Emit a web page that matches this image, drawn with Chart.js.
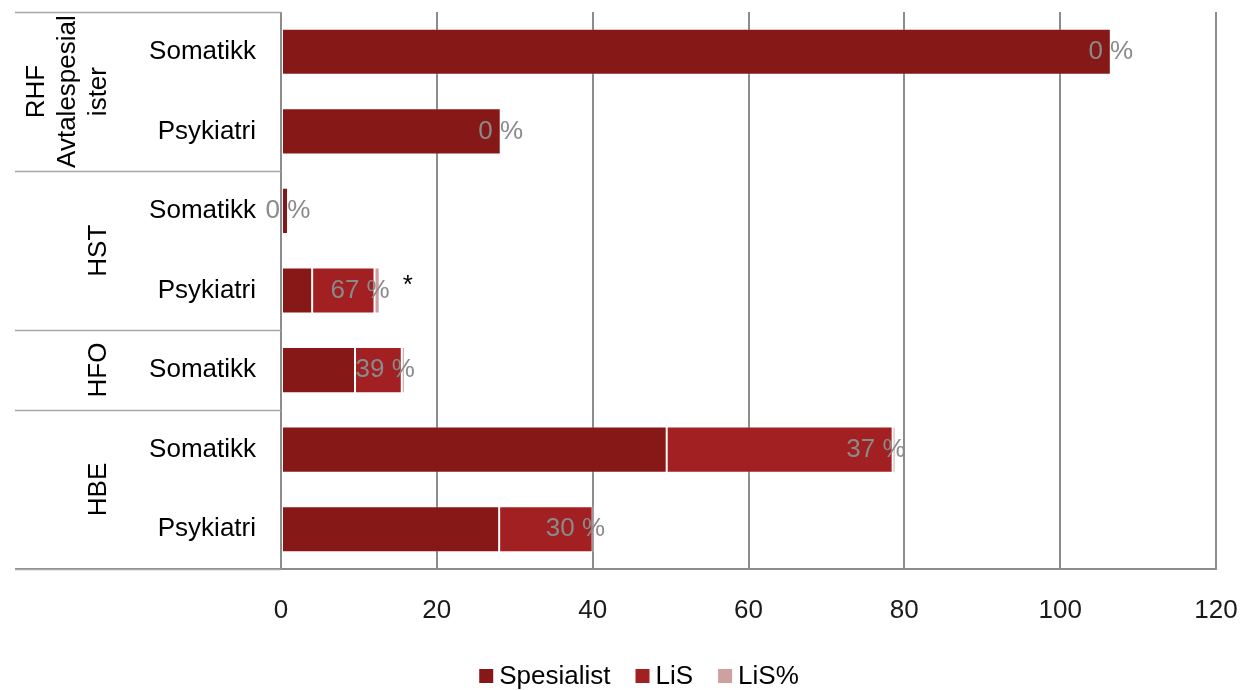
<!DOCTYPE html>
<html><head><meta charset="utf-8">
<script src="https://cdn.jsdelivr.net/npm/chart.js@4/dist/chart.umd.min.js"></script>
<style>html,body{margin:0;padding:0;background:#fff}#wrap{width:1242px;height:690px;position:relative}</style>
</head><body><div id="wrap"><canvas id="c" width="1242" height="690"></canvas></div>
<script>
const groups = ['RHF Avtalespesialister','RHF Avtalespesialister','HST','HST','HFO','HBE','HBE'];
const groupLines = {'RHF Avtalespesialister':['RHF','Avtalespesial','ister'],'HST':['HST'],'HFO':['HFO'],'HBE':['HBE']};
const categories = ['Somatikk','Psykiatri','Somatikk','Psykiatri','Somatikk','Somatikk','Psykiatri'];
const spesialist = [106.5, 28.2, 0.9, 4, 9.5, 49.5, 28];
const lis = [0, 0, 0, 8, 6, 29, 12];
const lisPct = [0, 0, 0, 0.67, 0.39, 0.37, 0.30];
const notes = ['', '', '', '*', '', '', ''];
const xTicks = [0, 20, 40, 60, 80, 100, 120];
const seriesNames = ['Spesialist','LiS','LiS%'];
const colors = ['#861818','#A21F22','#CFA0A0'];

const FONT = '"Liberation Sans", Arial, sans-serif';
const FS = 26;
const labelsPlugin = {
  id: 'custom',
  afterDraw(chart) {
    const ctx = chart.ctx, ca = chart.chartArea, ys = chart.scales.y;
    ctx.save();
    // group separators
    ctx.strokeStyle = '#a6a6a6'; ctx.lineWidth = 1.5;
    const bounds = [];
    let start = 0;
    for (let i = 1; i <= groups.length; i++) {
      if (i === groups.length || groups[i] !== groups[start]) { bounds.push([start, i - 1]); start = i; }
    }
    const band = (ca.bottom - ca.top) / categories.length;
    const edges = [ca.top];
    bounds.forEach(b => edges.push(ys.getPixelForValue(b[1]) + band / 2));
    edges.forEach(y => { ctx.beginPath(); ctx.moveTo(15, Math.round(y) + 0.5); ctx.lineTo(ca.left, Math.round(y) + 0.5); ctx.stroke(); });
    // subcategory labels
    ctx.fillStyle = '#000'; ctx.font = FS + 'px ' + FONT; ctx.textAlign = 'right'; ctx.textBaseline = 'middle';
    categories.forEach((c, i) => ctx.fillText(c, 256, ys.getPixelForValue(i)));
    // group labels rotated
    bounds.forEach(b => {
      const yc = (ys.getPixelForValue(b[0]) + ys.getPixelForValue(b[1])) / 2;
      const lines = groupLines[groups[b[0]]];
      const lh = 31;
      const x0 = 99 - (lines.length - 1) * lh;
      lines.forEach((t, k) => {
        ctx.save(); ctx.translate(x0 + k * lh, yc); ctx.rotate(-Math.PI / 2);
        ctx.textAlign = 'center'; ctx.textBaseline = 'middle'; ctx.fillText(t, 0, 0); ctx.restore();
      });
    });
    // data labels
    const meta = chart.getDatasetMeta(2);
    meta.data.forEach((el, i) => {
      ctx.font = FS + 'px ' + FONT; ctx.fillStyle = '#8a8a8a'; ctx.textBaseline = 'middle';
      const txt = Math.round(lisPct[i] * 100) + ' %';
      if (lisPct[i] === 0) { ctx.textAlign = 'center'; ctx.fillText(txt, el.x, el.y); }
      else { ctx.textAlign = 'right'; ctx.fillText(txt, el.x + 10, el.y); }
      if (notes[i]) { ctx.fillStyle = '#000'; ctx.textAlign = 'center'; ctx.fillText(notes[i], el.x + 28, el.y - 5); }
    });
    // legend
    ctx.font = FS + 'px ' + FONT; ctx.textAlign = 'left'; ctx.textBaseline = 'middle';
    const widths = seriesNames.map(n => ctx.measureText(n).width);
    const box = 14, gap = 6, sep = 25;
    const total = widths.reduce((a, w) => a + box + gap + w, 0) + sep * (seriesNames.length - 1);
    let x = 639 - total / 2; const ly = 676;
    seriesNames.forEach((n, k) => {
      ctx.fillStyle = colors[k]; ctx.fillRect(x, ly - 7, box, box);
      ctx.fillStyle = '#000'; ctx.fillText(n, x + box + gap, ly + 1);
      x += box + gap + widths[k] + sep;
    });
    ctx.restore();
  }
};

new Chart(document.getElementById('c'), {
  type: 'bar',
  data: {
    labels: categories.map((c, i) => groups[i] + ' ' + c),
    datasets: [spesialist, lis, lisPct].map((d, k) => ({
      label: seriesNames[k], data: d, backgroundColor: colors[k],
      borderColor: 'rgba(255,255,255,0.22)', borderWidth: 1, borderSkipped: false,
      categoryPercentage: 1, barPercentage: 0.58
    }))
  },
  options: {
    indexAxis: 'y', responsive: false, animation: false,
    layout: { padding: { left: 281, right: 26, top: 12, bottom: 0 } },
    plugins: { legend: { display: false }, tooltip: { enabled: false } },
    scales: {
      y: { stacked: true, display: false },
      x: {
        stacked: true, min: 0, max: 120,
        afterBuildTicks(s) { s.ticks = xTicks.map(v => ({ value: v })); },
        afterFit(s) { s.height = 121; s.paddingRight = 0; s.paddingLeft = 0; },
        grid: { color: '#8c8c8c', lineWidth: 2, drawTicks: false, tickLength: 0 },
        border: { display: false },
        ticks: { padding: 26, color: '#1a1a1a', font: { size: FS, family: FONT } }
      }
    }
  },
  plugins: [labelsPlugin, {
    id: 'axisline',
    beforeDatasetsDraw(chart) {
      const ctx = chart.ctx, ca = chart.chartArea;
      ctx.save(); ctx.strokeStyle = '#8c8c8c'; ctx.lineWidth = 2;
      ctx.beginPath(); ctx.moveTo(15, ca.bottom); ctx.lineTo(ca.right + 1, ca.bottom); ctx.stroke();
      ctx.restore();
    }
  }]
});
</script></body></html>
